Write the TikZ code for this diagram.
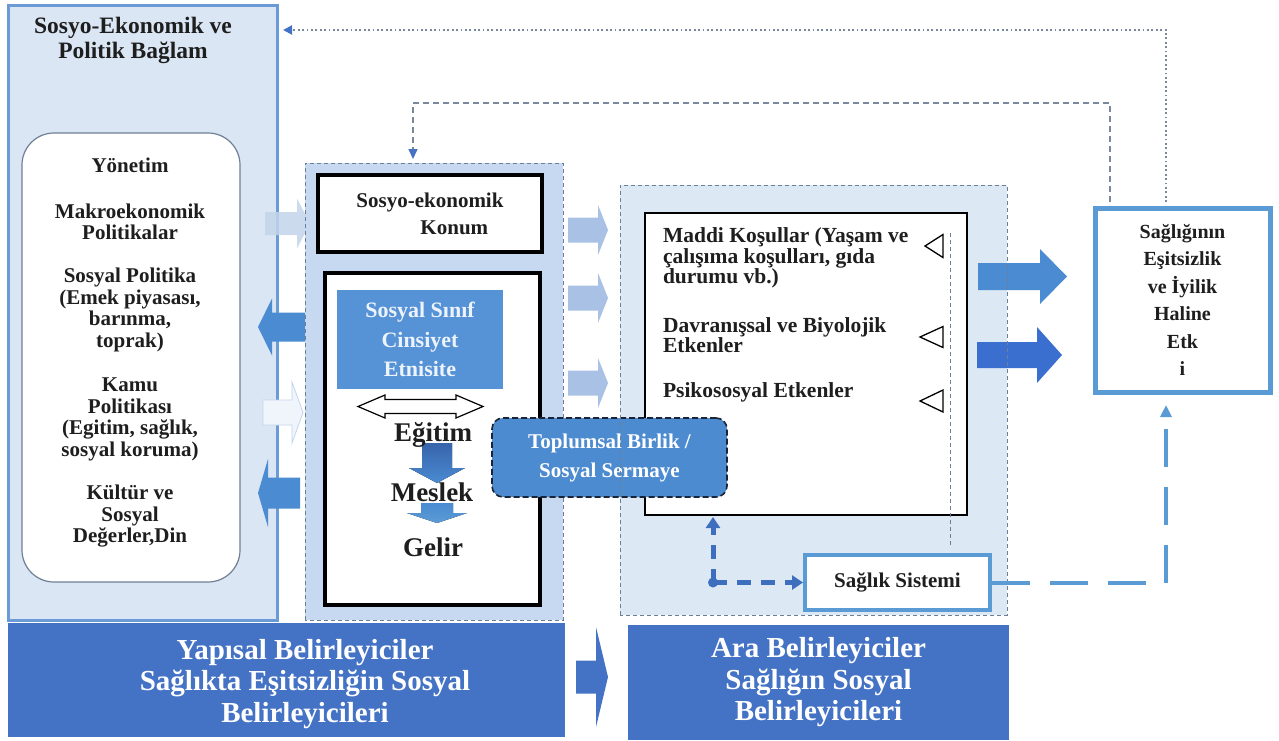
\documentclass[tikz,border=0pt]{standalone}
\usepackage{fontspec}
\setmainfont{Liberation Serif}
\usetikzlibrary{arrows.meta}

\definecolor{ctxfill}{HTML}{DAE6F4}
\definecolor{ctxline}{HTML}{6B9BD6}
\definecolor{policyline}{HTML}{6F7F95}
\definecolor{midfill}{HTML}{C6D9F0}
\definecolor{interfill}{HTML}{DDE8F5}
\definecolor{dashgray}{HTML}{6C7F99}
\definecolor{dotgray}{HTML}{7A889C}
\definecolor{classblue}{HTML}{5592D6}
\definecolor{classtext}{HTML}{EDF3FB}
\definecolor{cohblue}{HTML}{4D8BD0}
\definecolor{navyline}{HTML}{1B2436}
\definecolor{bandblue}{HTML}{4472C4}
\definecolor{frameblue}{HTML}{5B9BD5}
\definecolor{hubblue}{HTML}{3E6FBE}
\definecolor{paleblue}{HTML}{A8C1E4}
\definecolor{ctxpale}{HTML}{C3D5EA}
\definecolor{arrowblue}{HTML}{4A8BD2}
\definecolor{deepblue}{HTML}{3A6FD0}
\definecolor{inkdark}{HTML}{1E1E1E}

\newcommand{\harrow}[7]{%
  \fill[#7] (#1,#4-#5) -- (#2,#4-#5) -- (#2,#4-#6) -- (#3,#4) -- (#2,#4+#6) -- (#2,#4+#5) -- (#1,#4+#5) -- cycle;}
\newcommand{\varrow}[7]{%
  \fill[#7] (#4-#5,#1) -- (#4-#5,#2) -- (#4-#6,#2) -- (#4,#3) -- (#4+#6,#2) -- (#4+#5,#2) -- (#4+#5,#1) -- cycle;}

\tikzset{
  box/.style={rectangle, inner sep=0pt, outer sep=0pt},
  ctxbox/.style={box, draw=ctxline, line width=3pt, fill=ctxfill},
  titletxt/.style={box, align=center, text=inkdark, font=\bfseries\fontsize{23.5}{25}\selectfont},
  policybox/.style={box, draw=policyline, line width=1.2pt, fill=white, rounded corners=32pt},
  policytxt/.style={box, align=center, text=inkdark, font=\bfseries\fontsize{21}{21.5}\selectfont},
  groupfill/.style={box, fill=#1},
  groupline/.style={draw=dashgray, line width=0.9pt, dash pattern=on 4pt off 3pt},
  rankbox/.style={box, draw=black, line width=4pt, fill=white, text=inkdark, align=left, font=\bfseries\fontsize{21}{27}\selectfont},
  classbox/.style={box, fill=classblue, text=classtext, align=center, font=\bfseries\fontsize{22}{29.5}\selectfont},
  edutxt/.style={box, text=inkdark, font=\bfseries\fontsize{27}{27}\selectfont},
  cohesionbox/.style={box, draw=navyline, line width=1.6pt, dash pattern=on 6pt off 3pt, rounded corners=11pt, fill=cohblue, text=white, align=center, font=\bfseries\fontsize{21}{29}\selectfont},
  condbox/.style={box, draw=black, line width=1.3pt, fill=white},
  condtxt/.style={box, anchor=west, align=left, text=inkdark, font=\bfseries\fontsize{21.5}{20.5}\selectfont},
  marker/.style={draw=black, line width=1.3pt, fill=white},
  healthbox/.style={box, draw=frameblue, line width=4pt, fill=white, text=inkdark, font=\bfseries\fontsize{21}{22}\selectfont},
  outbox/.style={box, draw=frameblue, line width=5pt, fill=white, align=center, text=inkdark, font=\bfseries\fontsize{20}{27.5}\selectfont},
  bandbox/.style={box, fill=bandblue},
  bandtxt/.style={box, text=white, align=center, font=\bfseries\fontsize{29}{31.5}\selectfont},
  hubline/.style={draw=hubblue, line width=5pt, dash pattern=on 14pt off 10pt, -{Triangle[length=11pt,width=14pt]}},
  fbline/.style={draw=frameblue, line width=4pt, dash pattern=on 38pt off 20pt, -{Triangle[length=12pt,width=11pt]}},
  dotline/.style={draw=dotgray, line width=1.9pt, dash pattern=on 1.8pt off 2.6pt, -{Triangle[color=bandblue,length=9pt,width=9pt]}},
  dashline/.style={draw=dotgray, line width=1.5pt, dash pattern=on 6pt off 4pt, -{Triangle[color=bandblue,length=10pt,width=9pt]}},
}

\begin{document}
\begin{tikzpicture}[x=1pt, y=-1pt]
    \useasboundingbox[fill=white] (0,0) rectangle (1279,740);

    \node[ctxbox, minimum width=269pt, minimum height=615pt] (context) at (142.5,312.5) {};
    \node[titletxt] (ctxtitle) at (133,40) {Sosyo-Ekonomik ve\\Politik Bağlam};
    \node[policybox, minimum width=218pt, minimum height=449pt] (policy) at (131,357.5) {};
    \node[policytxt] (govern) at (130,165) {Yönetim};
    \node[policytxt] (macro) at (130,222) {Makroekonomik\\Politikalar};
    \node[policytxt] (social) at (130,310) {Sosyal Politika\\(Emek piyasası,\\barınma,\\toprak)};
    \node[policytxt] (public) at (130,419.5) {Kamu\\Politikası\\(Egitim, sağlık,\\sosyal koruma)};
    \node[policytxt] (culture) at (130,516.5) {Kültür ve\\Sosyal\\Değerler,Din};

    \harrow{265}{297}{310}{223.5}{11.5}{25}{ctxpale, opacity=.85}
    \harrow{305}{272}{258}{327}{14.5}{28.5}{arrowblue}
    \harrow{263}{292}{303}{412.5}{12.5}{30.5}{fill=ctxfill!40, draw=ctxpale, line width=.8pt}
    \harrow{300}{268}{258}{493}{15.5}{34}{arrowblue}

    \node[groupfill=midfill, minimum width=258pt, minimum height=457pt] (mid) at (434,391.5) {};
    \draw[groupline] (mid.south west) rectangle (mid.north east);
    \node[rankbox, minimum width=224pt, minimum height=77pt] (rank) at (430,213.5) {Sosyo-ekonomik\\\hspace*{64pt}Konum};
    \node[rankbox, minimum width=215pt, minimum height=332pt] (strat) at (432.5,439) {};
    \node[classbox, minimum width=166pt, minimum height=99pt] (class) at (420,339.5) {Sosyal Sınıf\\Cinsiyet\\Etnisite};
    \draw[black, fill=white, line width=1.2pt] (358,406.5) -- (385,395) -- (385,399.5) -- (456,399.5) -- (456,395) -- (483,406.5) -- (456,418) -- (456,413.5) -- (385,413.5) -- (385,418) -- cycle;
    \varrow{443}{468}{483}{437}{15}{28}{top color=hubblue!90!black, bottom color=arrowblue}
    \varrow{503}{513}{523}{437}{16}{30}{top color=arrowblue, bottom color=frameblue}
    \node[edutxt] (edu) at (433,435) {Eğitim};
    \node[edutxt] (occ) at (432,492) {Meslek};
    \node[edutxt] (inc) at (433,547) {Gelir};

    \node[groupfill=interfill, minimum width=387pt, minimum height=430pt] (inter) at (813.5,400) {};
    \node[condbox, minimum width=322pt, minimum height=302pt] (circ) at (806,364) {};
    \node[condtxt] (material) at (663,258) {Maddi Koşullar (Yaşam ve\\çalışıma koşulları, gıda\\durumu vb.)};
    \node[condtxt] (behav) at (663,335) {Davranışsal ve Biyolojik\\Etkenler};
    \node[condtxt] (psycho) at (663,392) {Psikososyal Etkenler};
    \draw[marker] (925,246) -- (943,234.5) -- (943,257.5) -- cycle;
    \draw[marker] (920,337) -- (943,326.5) -- (943,347.5) -- cycle;
    \draw[marker] (920,401) -- (943,390) -- (943,412) -- cycle;
    \draw[groupline] (950,233) -- (950,547);

    \harrow{568}{598}{608}{230}{12.5}{25}{paleblue}
    \harrow{568}{598}{608}{298}{12.5}{25}{paleblue}
    \harrow{568}{598}{608}{383}{12.5}{25}{paleblue}

    \node[cohesionbox, minimum width=235pt, minimum height=79pt] (cohesion) at (609.5,457.5) {Toplumsal Birlik /\\Sosyal Sermaye};

    \node[healthbox, minimum width=185pt, minimum height=55pt] (health) at (897.5,582.5) {Sağlık Sistemi};
    \coordinate (hub) at (713,582.5);
    \fill[hubblue] (hub) circle[radius=5pt];
    \draw[hubline, shorten >=2pt] (hub) -- (hub |- circ.south);
    \draw[hubline, shorten >=2pt] (hub) -- (health.west);

    \node[outbox, minimum width=175pt, minimum height=184pt] (outcome) at (1182.5,300) {Sağlığının\\Eşitsizlik\\ve İyilik\\Haline\\Etk\\i};
    \harrow{978}{1040}{1067}{276.5}{13.5}{27.5}{arrowblue}
    \harrow{977}{1037}{1062}{355}{13}{28}{deepblue}
    \draw[groupline] (inter.south west) rectangle (inter.north east);

    \draw[fbline] ([xshift=2pt]health.east) -| ([xshift=-16.5pt, yshift=-13pt]outcome.south);
    \coordinate (ctxin) at (283,30);
    \draw[dotline] ([xshift=-16.5pt, yshift=6pt]outcome.north) |- (ctxin);
    \coordinate (bend) at (413,103);
    \draw[dashline, shorten >=4pt] ([xshift=-72.5pt, yshift=6pt]outcome.north) |- (bend) -- (bend |- mid.north);

    \node[bandbox, minimum width=557pt, minimum height=114pt] (struct) at (286.5,680) {};
    \node[bandtxt] (structtxt) at (305,684) {Yapısal Belirleyiciler\\Sağlıkta Eşitsizliğin Sosyal\\Belirleyicileri};
    \node[bandbox, bandtxt, minimum width=381pt, minimum height=115pt] (interband) at (818.5,682.5) {Ara Belirleyiciler\\Sağlığın Sosyal\\Belirleyicileri};
    \harrow{576}{596}{608}{677}{16.5}{50}{bandblue}
\end{tikzpicture}
\end{document}
